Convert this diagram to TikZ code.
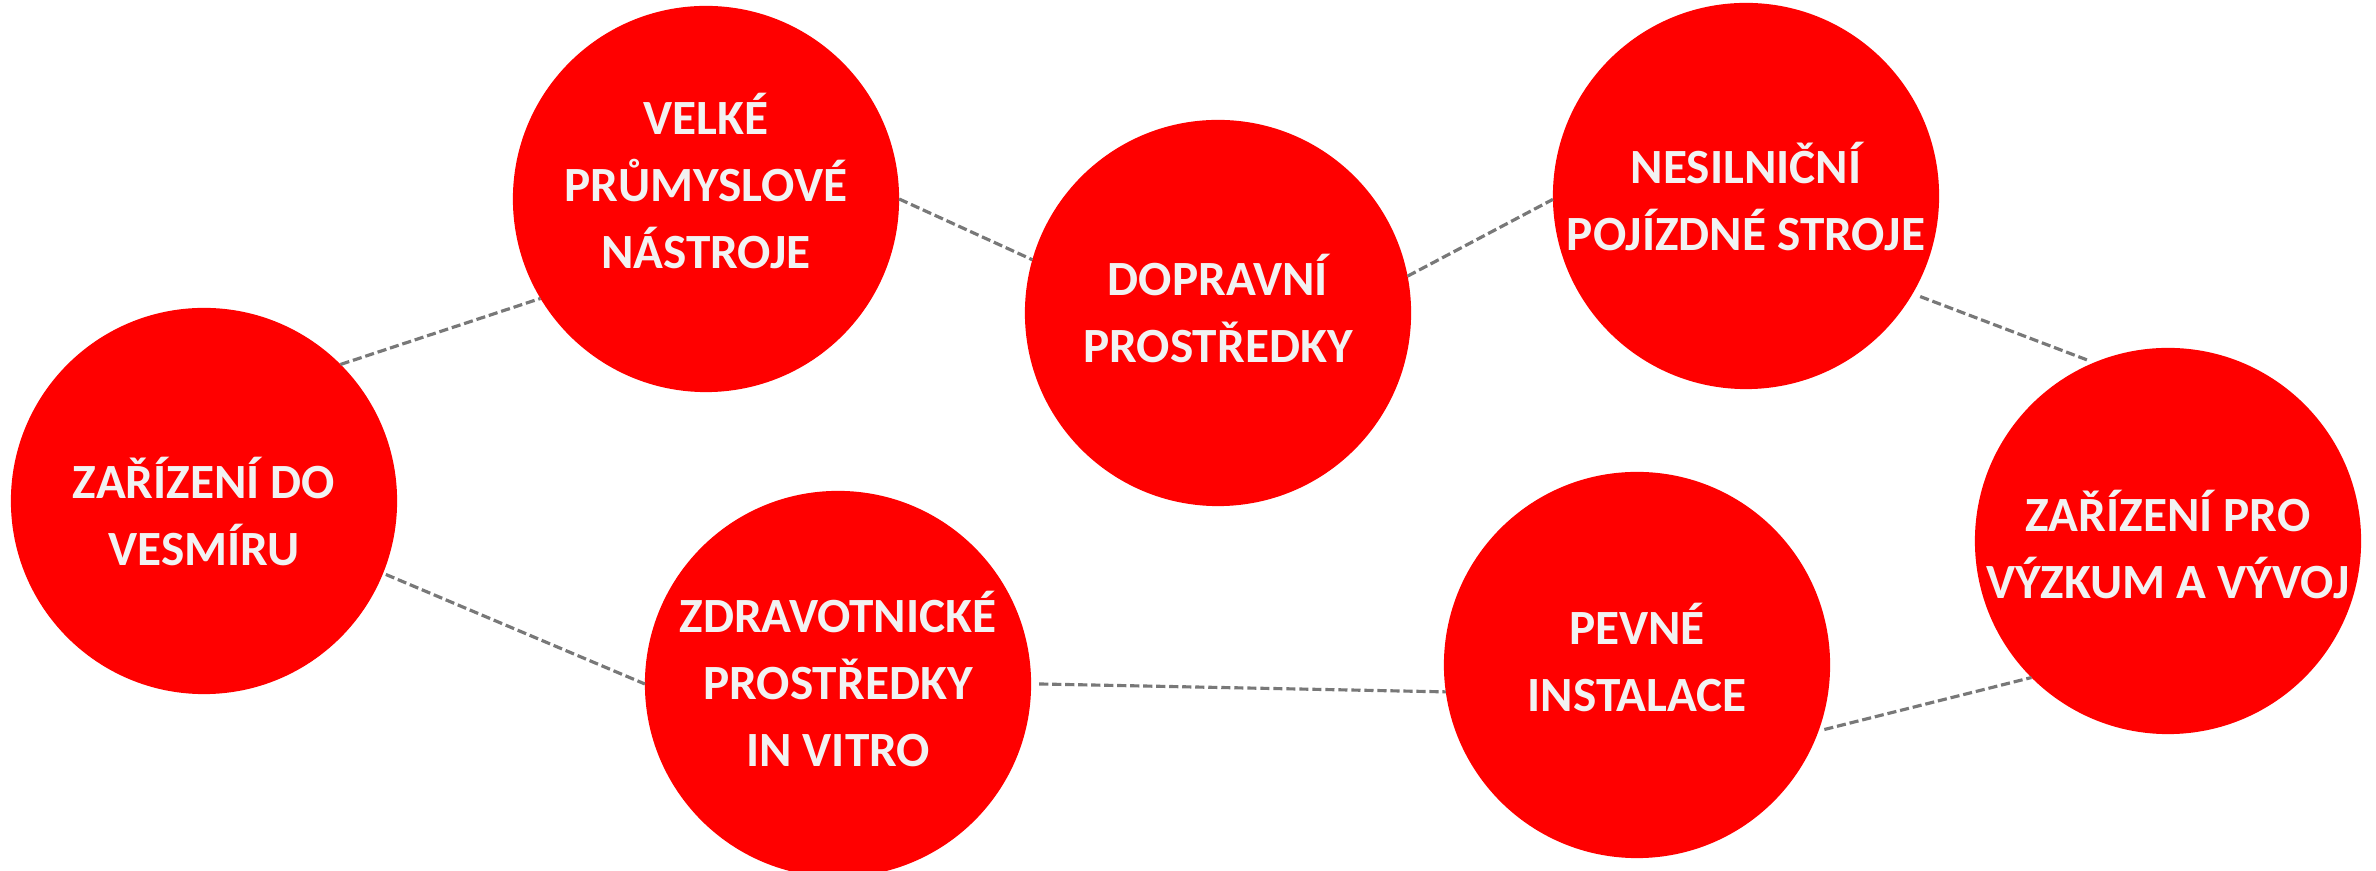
\documentclass[tikz,border=0pt]{standalone}
\usepackage{fontspec}
\setmainfont{Carlito}
\usetikzlibrary{shapes.geometric}
\definecolor{circred}{HTML}{FF0000}
\definecolor{txtwhite}{HTML}{F2F2F2}
\definecolor{linkgray}{HTML}{787878}
\begin{document}
\begin{tikzpicture}[x=0.01cm,y=-0.01cm,
  bubble/.style={circle,fill=circred,draw=none,minimum size=3.86cm,inner sep=0pt,outer sep=0pt},
  label/.style={anchor=base,inner sep=0pt,outer sep=0pt,text=txtwhite,
    font=\fontsize{14}{19}\selectfont\bfseries},
  link/.style={draw=linkgray,line width=0.9pt,dash pattern=on 2.6pt off 1.1pt}]
\useasboundingbox (0,0) rectangle (2376,871);
% circles
\node[bubble] (c1) at (204,501) {};
\node[bubble] (c2) at (706,199) {};
\node[bubble] (c3) at (1218,313) {};
\node[bubble] (c4) at (1746,196) {};
\node[bubble] (c5) at (2168,541) {};
\node[bubble] (c6) at (838,684) {};
\node[bubble] (c7) at (1637,665) {};
% connectors
\draw[link] (c1.45) -- (c2.211);
\draw[link] (c2.0) -- (c3.164);
\draw[link] (c3.11) -- (c4.181);
\draw[link] ([shift={(-30:0.08cm)}]c4.-30) -- ([shift={(114.8:0.05cm)}]c5.114.8);
\draw[link] ([shift={(-22:0.03cm)}]c1.-22) -- (c6.180);
\draw[link] ([shift={(0:0.08cm)}]c6.0) -- (c7.188);
\draw[link] ([shift={(-19:0.05cm)}]c7.-19) -- (c5.225);
% labels
\def\arraystretch{1}\setlength{\tabcolsep}{0pt}
\node[label] (t1) at (204,499) {\begin{tabular}[t]{c}ZAŘÍZENÍ DO\\VESMÍRU\end{tabular}};
\node[label] (t2) at (706,135) {\begin{tabular}[t]{c}VELKÉ\\PRŮMYSLOVÉ\\NÁSTROJE\end{tabular}};
\node[label] (t3) at (1218,296) {\begin{tabular}[t]{c}DOPRAVNÍ\\PROSTŘEDKY\end{tabular}};
\node[label] (t4) at (1746,184) {\begin{tabular}[t]{c}NESILNIČNÍ\\POJÍZDNÉ STROJE\end{tabular}};
\node[label] (t5) at (2168,532) {\begin{tabular}[t]{c}ZAŘÍZENÍ PRO\\VÝZKUM A VÝVOJ\end{tabular}};
\node[label] (t6) at (838,633) {\begin{tabular}[t]{c}ZDRAVOTNICKÉ\\PROSTŘEDKY\\IN VITRO\end{tabular}};
\node[label] (t7) at (1637,645) {\begin{tabular}[t]{c}PEVNÉ\\INSTALACE\end{tabular}};
\end{tikzpicture}
\end{document}
